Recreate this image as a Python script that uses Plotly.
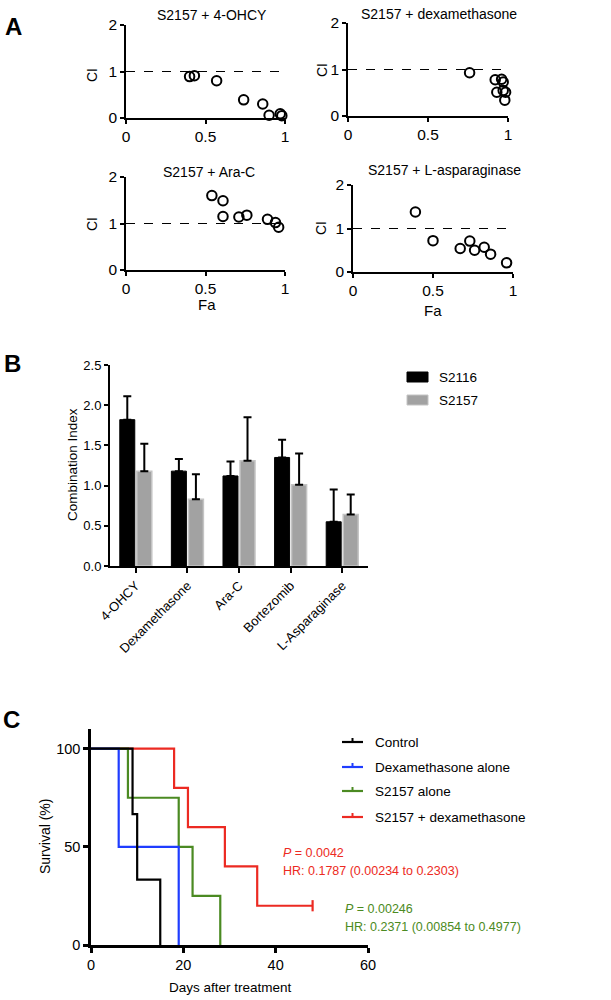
import plotly.graph_objects as go

W, H = 611, 1000
FONT = "Arial, Liberation Sans, sans-serif"

# ---------------- Panel A data (Fa, CI) ----------------
a1_title = "S2157 + 4-OHCY"
a1_fa = [0.40, 0.43, 0.57, 0.74, 0.86, 0.90, 0.97, 0.98]
a1_ci = [0.89, 0.91, 0.80, 0.39, 0.30, 0.06, 0.09, 0.05]

a2_title = "S2157 + dexamethasone"
a2_fa = [0.76, 0.92, 0.96, 0.97, 0.93, 0.97, 0.985, 0.98]
a2_ci = [0.93, 0.78, 0.79, 0.73, 0.51, 0.55, 0.51, 0.34]

a3_title = "S2157 + Ara-C"
a3_fa = [0.54, 0.61, 0.61, 0.71, 0.76, 0.89, 0.94, 0.96]
a3_ci = [1.60, 1.49, 1.15, 1.14, 1.18, 1.09, 1.02, 0.92]

a4_title = "S2157 + L-asparaginase"
a4_fa = [0.39, 0.50, 0.67, 0.73, 0.76, 0.82, 0.86, 0.96]
a4_ci = [1.38, 0.72, 0.54, 0.71, 0.50, 0.57, 0.41, 0.21]

# ---------------- Panel B data ----------------
b_categories = ["4-OHCY", "Dexamethasone", "Ara-C", "Bortezomib", "L-Asparaginase"]
b_s2116 = [1.82, 1.18, 1.12, 1.35, 0.55]
b_s2116_err = [0.29, 0.15, 0.18, 0.22, 0.40]
b_s2157 = [1.18, 0.83, 1.31, 1.01, 0.64]
b_s2157_err = [0.34, 0.31, 0.54, 0.39, 0.25]

# ---------------- Panel C data (Kaplan-Meier steps) ----------------
c_control_t = [0, 9, 10, 15]
c_control_s = [100, 66.7, 33.3, 0]
c_dexa_t = [0, 6, 19]
c_dexa_s = [100, 50, 0]
c_s2157_t = [0, 8, 19, 22, 28]
c_s2157_s = [100, 75, 50, 25, 0]
c_combo_t = [0, 18, 21, 29, 36, 48]
c_combo_s = [100, 80, 60, 40, 20, 20]
c_censor_t = [48]
c_censor_s = [20]

RED = "#ec2a22"
BLUE = "#1f3dff"
GREEN = "#4b8a22"
GRAY = "#a2a2a2"


def px(x):
    return x / W


def py(y):
    return 1 - y / H


fig = go.Figure()

a_sets = [
    (a1_fa, a1_ci, "1", (126, 285, 25, 118)),
    (a2_fa, a2_ci, "2", (348, 508, 23, 116)),
    (a3_fa, a3_ci, "3", (126, 285, 177, 270)),
    (a4_fa, a4_ci, "4", (353, 513, 185, 272)),
]

shapes = []
annotations = []
layout_axes = {}

for fa, ci, k, (x0, x1, y0, y1) in a_sets:
    xa = "x" if k == "1" else "x" + k
    ya = "y" if k == "1" else "y" + k
    fig.add_trace(go.Scatter(
        x=fa, y=ci, mode="markers", xaxis=xa, yaxis=ya, showlegend=False,
        marker=dict(symbol="circle-open", size=9.5, color="black",
                    line=dict(width=2, color="black")),
        cliponaxis=False,
    ))
    xname = "xaxis" if k == "1" else "xaxis" + k
    yname = "yaxis" if k == "1" else "yaxis" + k
    layout_axes[xname] = dict(
        domain=[px(x0), px(x1)], range=[0, 1], anchor=ya, automargin=False,
        tickvals=[0, 0.5, 1], ticktext=["0", "0.5", "1"],
        showline=True, linecolor="black", linewidth=1.5,
        ticks="outside", ticklen=4, tickwidth=1.5, tickcolor="black",
        showgrid=False, zeroline=False,
        tickfont=dict(size=15.5, color="black", family=FONT),
    )
    layout_axes[yname] = dict(
        domain=[py(y1), py(y0)], range=[0, 2], anchor=xa, automargin=False,
        tickvals=[0, 1, 2],
        showline=True, linecolor="black", linewidth=1.5,
        ticks="outside", ticklen=4, tickwidth=1.5, tickcolor="black",
        showgrid=False, zeroline=False,
        tickfont=dict(size=15.5, color="black", family=FONT),
    )
    shapes.append(dict(type="line", xref=xa, yref=ya, x0=0, x1=1, y0=1, y1=1,
                       line=dict(color="black", width=1.2, dash="dash")))

for text, x, y in [(a1_title, 212, 15), (a2_title, 439, 14),
                   (a3_title, 209, 172), (a4_title, 445, 170)]:
    annotations.append(dict(text=text, x=px(x), y=py(y), xref="paper", yref="paper",
                            showarrow=False, xanchor="center", yanchor="middle",
                            font=dict(size=14, color="black", family=FONT)))
for x, y in [(92, 75), (322, 70), (92, 224), (321, 228)]:
    annotations.append(dict(text="CI", x=px(x), y=py(y), xref="paper", yref="paper",
                            showarrow=False, textangle=-90, xanchor="center", yanchor="middle",
                            font=dict(size=14, color="black", family=FONT)))
for x, y in [(207, 305), (433, 311)]:
    annotations.append(dict(text="Fa", x=px(x), y=py(y), xref="paper", yref="paper",
                            showarrow=False, xanchor="center", yanchor="middle",
                            font=dict(size=15, color="black", family=FONT)))

# ---------------- Panel B ----------------
fig.add_trace(go.Bar(
    x=b_categories, y=b_s2116, name="S2116", xaxis="x5", yaxis="y5", showlegend=False,
    marker=dict(color="black", line=dict(color="black", width=1)),
    error_y=dict(type="data", symmetric=False, array=b_s2116_err,
                 arrayminus=[0] * len(b_s2116_err),
                 color="black", thickness=2, width=4),
))
fig.add_trace(go.Bar(
    x=b_categories, y=b_s2157, name="S2157", xaxis="x5", yaxis="y5", showlegend=False,
    marker=dict(color=GRAY, line=dict(color="#c4c4c4", width=1.5)),
    error_y=dict(type="data", symmetric=False, array=b_s2157_err,
                 arrayminus=[0] * len(b_s2157_err),
                 color="black", thickness=2, width=4),
))
layout_axes["xaxis5"] = dict(
    domain=[px(110), px(368)], anchor="y5", range=[-0.5, 4.5], automargin=False,
    showline=True, linecolor="black", linewidth=2,
    ticks="outside", ticklen=5, tickwidth=2, tickcolor="black",
    tickangle=-45, showgrid=False, zeroline=False,
    tickfont=dict(size=13, color="black", family=FONT),
)
layout_axes["yaxis5"] = dict(
    domain=[py(566), py(365)], anchor="x5", range=[0, 2.5], dtick=0.5, tickformat=".1f",
    automargin=False,
    showline=True, linecolor="black", linewidth=2,
    ticks="outside", ticklen=4, tickwidth=2, tickcolor="black",
    showgrid=False, zeroline=False,
    tickfont=dict(size=13, color="black", family=FONT),
)
annotations.append(dict(text="Combination Index", x=px(72), y=py(465), xref="paper", yref="paper",
                        showarrow=False, textangle=-90, xanchor="center", yanchor="middle",
                        font=dict(size=13.5, color="black", family=FONT)))
for (yc, col, border, label) in [(377, "black", "black", "S2116"), (400, GRAY, "#c4c4c4", "S2157")]:
    shapes.append(dict(type="rect", xref="paper", yref="paper",
                       x0=px(407), x1=px(428), y0=py(yc + 5), y1=py(yc - 5),
                       fillcolor=col, line=dict(color=border, width=1)))
    annotations.append(dict(text=label, x=px(437), y=py(yc), xref="paper", yref="paper",
                            showarrow=False, xanchor="left", yanchor="middle",
                            font=dict(size=13.5, color="black", family=FONT)))

# ---------------- Panel C ----------------
for t, s, col in [(c_combo_t, c_combo_s, RED), (c_s2157_t, c_s2157_s, GREEN),
                  (c_dexa_t, c_dexa_s, BLUE), (c_control_t, c_control_s, "black")]:
    fig.add_trace(go.Scatter(
        x=t, y=s, mode="lines", line=dict(color=col, width=2.2, shape="hv"),
        xaxis="x6", yaxis="y6", showlegend=False, cliponaxis=False,
    ))
fig.add_trace(go.Scatter(
    x=c_censor_t, y=c_censor_s, mode="markers", xaxis="x6", yaxis="y6", showlegend=False,
    marker=dict(symbol="line-ns-open", size=8, color=RED, line=dict(color=RED, width=2.2)),
    cliponaxis=False,
))
layout_axes["xaxis6"] = dict(
    domain=[px(91), px(368)], anchor="y6", range=[0, 60], tickvals=[0, 20, 40, 60],
    automargin=False,
    showline=True, linecolor="black", linewidth=2.5,
    ticks="outside", ticklen=5, tickwidth=2.5, tickcolor="black",
    showgrid=False, zeroline=False,
    tickfont=dict(size=14.5, color="black", family=FONT),
)
layout_axes["yaxis6"] = dict(
    domain=[py(945), py(729)], anchor="x6", range=[0, 110], tickvals=[0, 50, 100],
    automargin=False,
    showline=True, linecolor="black", linewidth=2.5,
    ticks="outside", ticklen=5, tickwidth=2.5, tickcolor="black",
    showgrid=False, zeroline=False,
    tickfont=dict(size=14.5, color="black", family=FONT),
)
annotations.append(dict(text="Survival (%)", x=px(45), y=py(837), xref="paper", yref="paper",
                        showarrow=False, textangle=-90, xanchor="center", yanchor="middle",
                        font=dict(size=14, color="black", family=FONT)))
annotations.append(dict(text="Days after treatment", x=px(230), y=py(987), xref="paper", yref="paper",
                        showarrow=False, xanchor="center", yanchor="middle",
                        font=dict(size=13.5, color="black", family=FONT)))
for yc, col, label in [(742, "black", "Control"), (767, BLUE, "Dexamethasone alone"),
                       (791, GREEN, "S2157 alone"), (817, RED, "S2157 + dexamethasone")]:
    shapes.append(dict(type="line", xref="paper", yref="paper",
                       x0=px(342), x1=px(363), y0=py(yc), y1=py(yc),
                       line=dict(color=col, width=2.2)))
    shapes.append(dict(type="line", xref="paper", yref="paper",
                       x0=px(352.5), x1=px(352.5), y0=py(yc), y1=py(yc - 4),
                       line=dict(color=col, width=2)))
    annotations.append(dict(text=label, x=px(373), y=py(yc), xref="paper", yref="paper",
                            showarrow=False, xanchor="left", yanchor="middle",
                            font=dict(size=13.5, color="black", family=FONT)))
for text, x, y, col in [("<i>P</i> = 0.0042", 281, 853, RED),
                        ("HR: 0.1787 (0.00234 to 0.2303)", 281, 871, RED),
                        ("<i>P</i> = 0.00246", 343, 909, GREEN),
                        ("HR: 0.2371 (0.00854 to 0.4977)", 343, 927, GREEN)]:
    annotations.append(dict(text=text, x=px(x), y=py(y), xref="paper", yref="paper",
                            showarrow=False, xanchor="left", yanchor="middle",
                            font=dict(size=12.5, color=col, family=FONT)))

for letter, x, y in [("A", 13, 26), ("B", 12, 363), ("C", 11, 719)]:
    annotations.append(dict(text="<b>%s</b>" % letter, x=px(x), y=py(y), xref="paper", yref="paper",
                            showarrow=False, xanchor="center", yanchor="middle",
                            font=dict(size=24, color="black", family=FONT)))

fig.update_layout(
    template="none",
    width=W, height=H,
    margin=dict(l=0, r=0, t=0, b=0, pad=0),
    paper_bgcolor="white", plot_bgcolor="white",
    font=dict(family=FONT, color="black"),
    barmode="group", bargap=0.34, bargroupgap=0.12,
    shapes=shapes, annotations=annotations,
    **layout_axes,
)

fig.write_html("out.html",
               config={"displayModeBar": False},
               post_script="document.body.style.margin='0';document.body.style.overflow='hidden';")
